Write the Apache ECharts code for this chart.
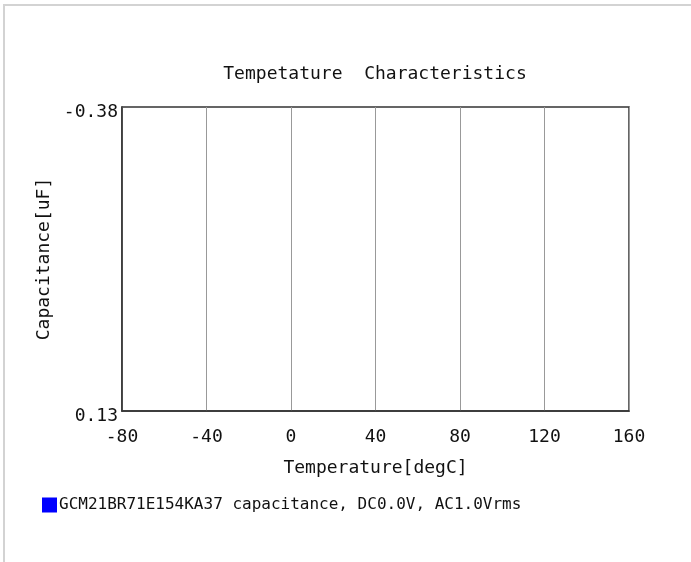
<!DOCTYPE html>
<html>
<head>
<meta charset="utf-8">
<script src="https://cdn.jsdelivr.net/npm/echarts@6/dist/echarts.min.js"></script>
<style>
html,body{margin:0;padding:0;background:#fff;}
#frame{position:absolute;left:3px;top:4px;width:688px;height:558px;border-left:2px solid #d3d3d3;border-top:2px solid #d3d3d3;box-sizing:border-box;}
#chart{position:absolute;left:0;top:0;width:691px;height:562px;}
</style>
</head>
<body>
<div id="frame"></div>
<div id="chart"></div>
<script>
var titleText = 'Tempetature  Characteristics';
var xName = 'Temperature[degC]';
var yName = 'Capacitance[uF]';
var seriesName = 'GCM21BR71E154KA37 capacitance, DC0.0V, AC1.0Vrms';
var xMin = -80, xMax = 160, xStep = 40;
var yTop = -0.38, yBottom = 0.13;
var seriesData = [];

var font = 'DejaVu Sans Mono';
var chart = echarts.init(document.getElementById('chart'), null, {renderer:'canvas'});
chart.setOption({
  backgroundColor: 'transparent',
  animation: false,
  title: {
    text: titleText, left: 370, top: 60, textAlign: 'center',
    textStyle: {fontFamily: font, fontSize: 18, fontWeight: 'normal', color: '#111'}
  },
  legend: {
    left: 42, top: 497, padding: 0, itemWidth: 15, itemHeight: 15, itemGap: 10,
    icon: 'rect',
    textStyle: {fontFamily: font, fontSize: 16, color: '#111', padding: [0,0,0,-3]},
    data: [{name: seriesName, icon: 'rect', itemStyle: {color: '#0000ff'}}]
  },
  grid: {left: 122, right: 62, top: 107, bottom: 151, show: true, borderColor: '#333', borderWidth: 1.5, containLabel: false},
  xAxis: {
    type: 'value', min: xMin, max: xMax, interval: xStep,
    name: xName, nameLocation: 'middle', nameGap: 48,
    nameTextStyle: {fontFamily: font, fontSize: 18, color: '#111'},
    axisLine: {show: true, onZero: false, lineStyle: {color: '#333', width: 1.5}},
    axisTick: {show: false},
    axisLabel: {fontFamily: font, fontSize: 18, color: '#111', margin: 17},
    splitLine: {show: true, lineStyle: {color: '#999', width: 1}}
  },
  yAxis: {
    type: 'value', inverse: true, min: yTop, max: yBottom, interval: +(yBottom - yTop).toFixed(2),
    name: yName, nameLocation: 'middle', nameGap: 60, nameRotate: 90,
    nameTextStyle: {fontFamily: font, fontSize: 18, color: '#111'},
    axisLine: {show: true, onZero: false, lineStyle: {color: '#333', width: 1.5}},
    axisTick: {show: false},
    axisLabel: {color: '#111', margin: 4,
      formatter: function(v){ return '{a|' + v.toFixed(2) + '}'; },
      rich: {a: {fontFamily: font, fontSize: 18, color: '#111', padding: [10,0,0,0]}}},
    splitLine: {show: false}
  },
  series: [{
    name: seriesName, type: 'line', data: seriesData,
    itemStyle: {color: '#0000ff'}, lineStyle: {color: '#0000ff'}, showSymbol: false
  }]
});
</script>
</body>
</html>
